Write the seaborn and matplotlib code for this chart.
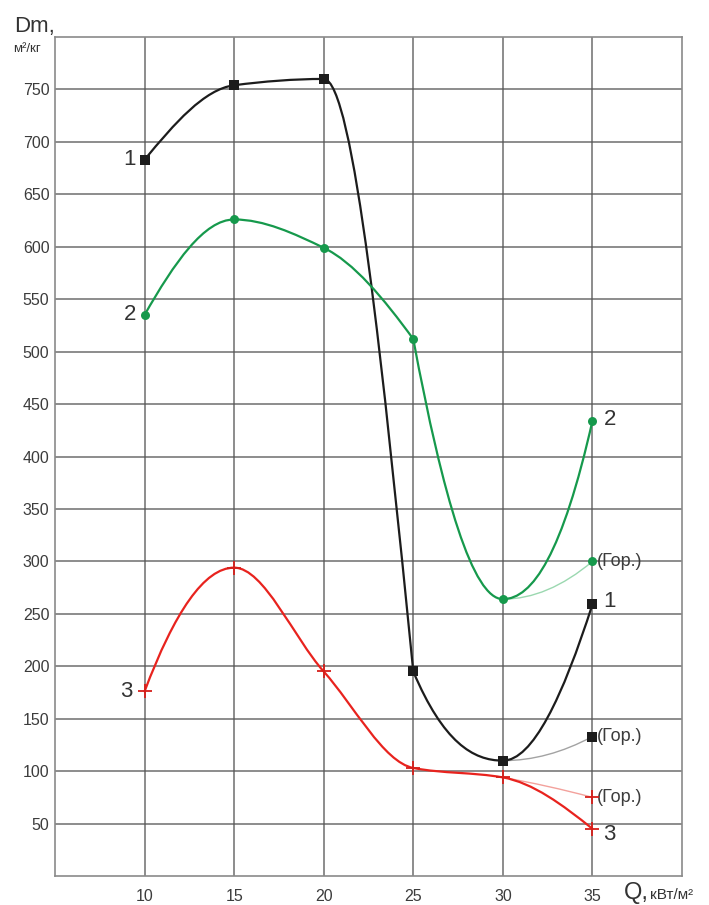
import matplotlib.pyplot as plt
import numpy as np
import pandas as pd
import seaborn as sns
from matplotlib.patches import PathPatch
from matplotlib.path import Path

# values
q_values = [10, 15, 20, 25, 30, 35]
dm_curve_1 = [683, 754, 760, 195, 110, 259]
dm_curve_2 = [535, 626, 599, 512, 264, 434]
dm_curve_3 = [176, 294, 195, 103, 94, 45]

gor_q = [30, 35]
gor_curve_1 = [110, 133]
gor_curve_2 = [264, 300]
gor_curve_3 = [94, 75]

x_ticks = [10, 15, 20, 25, 30, 35]
y_ticks = [50, 100, 150, 200, 250, 300, 350, 400, 450, 500, 550, 600, 650, 700, 750]

gor_label = "(Гор.)"


def pchip_slopes(x, y):
    x = np.asarray(x, float)
    y = np.asarray(y, float)
    h = np.diff(x)
    d = np.diff(y) / h
    n = len(x)
    m = np.zeros(n)
    if n == 2:
        m[:] = d[0]
        return m
    for i in range(1, n - 1):
        if d[i - 1] * d[i] > 0:
            w1 = 2 * h[i] + h[i - 1]
            w2 = h[i] + 2 * h[i - 1]
            m[i] = (w1 + w2) / (w1 / d[i - 1] + w2 / d[i])

    def end(h0, h1, d0, d1):
        s = ((2 * h0 + h1) * d0 - h0 * d1) / (h0 + h1)
        if np.sign(s) != np.sign(d0):
            return 0.0
        if np.sign(d0) != np.sign(d1) and abs(s) > 3 * abs(d0):
            return 3 * d0
        return s

    m[0] = end(h[0], h[1], d[0], d[1])
    m[-1] = end(h[-1], h[-2], d[-1], d[-2])
    return m


def hermite_path(x, y, m):
    verts = [(x[0], y[0])]
    codes = [Path.MOVETO]
    for i in range(len(x) - 1):
        h = x[i + 1] - x[i]
        verts += [(x[i] + h / 3, y[i] + m[i] * h / 3),
                  (x[i + 1] - h / 3, y[i + 1] - m[i + 1] * h / 3),
                  (x[i + 1], y[i + 1])]
        codes += [Path.CURVE4] * 3
    return Path(verts, codes)


def draw_curve(ax, x, y, color, lw, breaks=()):
    # smooth curve through the points, with optional corners at break indices
    cuts = [0] + list(breaks) + [len(x) - 1]
    slope_at = {}
    for a, b in zip(cuts[:-1], cuts[1:]):
        xs, ys = x[a:b + 1], y[a:b + 1]
        m = pchip_slopes(xs, ys)
        for k, s in enumerate(m):
            slope_at[a + k] = s
        ax.add_patch(PathPatch(hermite_path(xs, ys, m), fill=False,
                               edgecolor=color, lw=lw, zorder=3,
                               capstyle='round', joinstyle='round'))
    return slope_at


def draw_branch(ax, x, y, m0, color, lw):
    delta = (y[1] - y[0]) / (x[1] - x[0])
    m = [m0, 2 * delta - m0]
    ax.add_patch(PathPatch(hermite_path(x, y, m), fill=False,
                           edgecolor=color, lw=lw, zorder=2))


sns.set_style('white')
plt.rcParams['font.family'] = ['Liberation Sans', 'DejaVu Sans']

fig = plt.figure(figsize=(7.09, 9.05), dpi=100)
ax = fig.add_axes([55 / 709, 29 / 905, 627 / 709, 839 / 905])

black = '#1c1c1c'
green = '#16994c'
red = '#e8231e'

curves = [
    (dm_curve_1, gor_curve_1, black, '#a3a3a3', 's', [3]),
    (dm_curve_2, gor_curve_2, green, '#9bd8b0', 'o', [3]),
    (dm_curve_3, gor_curve_3, red, '#f3a19c', '+', []),
]

for main, gor, col, light, mk, brk in curves:
    slopes = draw_curve(ax, q_values, main, col, 1.6, brk)
    draw_branch(ax, gor_q, gor, slopes[q_values.index(gor_q[0])], light, 1.0)

    pts = pd.DataFrame({'q': q_values + [gor_q[1]], 'dm': main + [gor[1]]})
    if mk == '+':
        sns.scatterplot(data=pts, x='q', y='dm', marker='+', s=90, color='#d61f1a',
                        linewidth=1.3, ax=ax, zorder=4, legend=False)
    else:
        sns.scatterplot(data=pts, x='q', y='dm', marker=mk, s=42, color=col,
                        edgecolor=col, linewidth=0, ax=ax, zorder=4, legend=False)

ax.set_xlim(5, 40)
ax.set_ylim(0, 800)
ax.set_xticks(x_ticks)
ax.set_yticks(y_ticks)
ax.set_xticklabels([str(v) for v in x_ticks])
ax.set_yticklabels([str(v) for v in y_ticks])
ax.grid(True, color='#555555', lw=1.1, alpha=0.85)
ax.set_axisbelow(True)
for sp in ax.spines.values():
    sp.set_color('#8a8a8a')
    sp.set_linewidth(1.2)
ax.tick_params(axis='both', length=0, labelsize=11.5, labelcolor='#3c3c3c')
ax.tick_params(axis='y', pad=4)
ax.tick_params(axis='x', pad=9)
ax.set_xlabel('')
ax.set_ylabel('')

# curve numbers
lab = dict(fontsize=16, color='#333333', textcoords='offset points', va='center')
ax.annotate('1', (q_values[0], dm_curve_1[0]), xytext=(-6, 0), ha='right', **lab)
ax.annotate('2', (q_values[0], dm_curve_2[0]), xytext=(-6, 0), ha='right', **lab)
ax.annotate('3', (q_values[0], dm_curve_3[0]), xytext=(-9, 0), ha='right', **lab)
ax.annotate('2', (q_values[-1], dm_curve_2[-1]), xytext=(8, 1), ha='left', **lab)
ax.annotate('1', (q_values[-1], dm_curve_1[-1]), xytext=(8, 2), ha='left', **lab)
ax.annotate('3', (q_values[-1], dm_curve_3[-1]), xytext=(8, -4), ha='left', **lab)

gor_style = dict(fontsize=13, color='#3c3c3c', textcoords='offset points',
                 va='center', ha='left')
for gor in (gor_curve_1, gor_curve_2, gor_curve_3):
    ax.annotate(gor_label, (gor_q[1], gor[1]), xytext=(3.5, 0), **gor_style)

# axis titles
fig.text(14 / 709, 1 - 32 / 905, 'Dm,', fontsize=16, color='#333333', va='baseline')
fig.text(13 / 709, 1 - 52 / 905, 'м²/кг', fontsize=9.5, color='#333333', va='baseline')
fig.text(624 / 709, 1 - 899 / 905, 'Q,', fontsize=17, color='#333333', va='baseline')
fig.text(650 / 709, 1 - 899 / 905, 'кВт/м²', fontsize=11, color='#333333', va='baseline')

fig.savefig('out.png', dpi=100)
plt.close('all')
